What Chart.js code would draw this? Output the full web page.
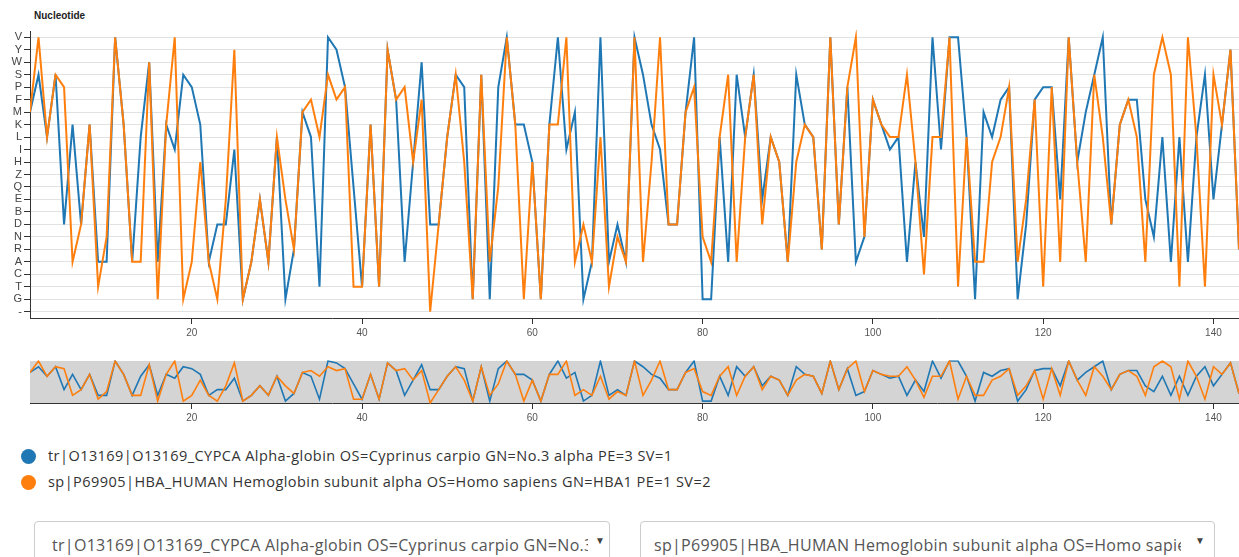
<!DOCTYPE html>
<html>
<head>
<meta charset="utf-8">
<title>Nucleotide</title>
<script src="https://cdn.jsdelivr.net/npm/chart.js"></script>
<style>
  body { margin: 0; width: 1239px; height: 557px; overflow: hidden; background: #fff; position: relative; font-family: "Liberation Sans", Arial, sans-serif; }
  #title { position: absolute; left: 34px; top: 10px; font-size: 10px; font-weight: bold; color: #222; }
  #main { position: absolute; left: 0; top: 0; }
  #brush { position: absolute; left: 0; top: 345px; }
  .legend { position: absolute; left: 21px; height: 16px; line-height: 16px; font-family: "Open Sans", sans-serif; font-size: 14.5px; letter-spacing: 0.45px; color: #333; white-space: nowrap; }
  .legend i { display: inline-block; width: 15px; height: 15px; border-radius: 50%; vertical-align: -3px; margin-right: 12px; }
  .pick { position: absolute; top: 521px; height: 44px; border: 1px solid #ccc; border-radius: 4px; background: #fff; }
  .pick select { -webkit-appearance: none; appearance: none; border: 0; background: transparent; outline: none;
    font-family: "Open Sans", sans-serif; font-size: 16px; letter-spacing: 0.3px; color: #555; position: absolute; top: 11px; height: 24px; padding: 0; }
  .pick span { position: absolute; top: 13px; font-size: 10px; color: #444; }
</style>
</head>
<body>
<div id="title">Nucleotide</div>
<canvas id="main" width="1239" height="345"></canvas>
<canvas id="brush" width="1239" height="85"></canvas>

<div class="legend" style="top:448px"><i style="background:#1f77b4"></i>tr|O13169|O13169_CYPCA Alpha-globin OS=Cyprinus carpio GN=No.3 alpha PE=3 SV=1</div>
<div class="legend" style="top:474px"><i style="background:#ff7f0e"></i>sp|P69905|HBA_HUMAN Hemoglobin subunit alpha OS=Homo sapiens GN=HBA1 PE=1 SV=2</div>

<div class="pick" style="left:34px; width:574px">
  <select id="pickA" style="left:17px; width:536px">
    <option>tr|O13169|O13169_CYPCA Alpha-globin OS=Cyprinus carpio GN=No.3 alpha PE=3 SV=1</option>
    <option>sp|P69905|HBA_HUMAN Hemoglobin subunit alpha OS=Homo sapiens GN=HBA1 PE=1 SV=2</option>
  </select>
  <span style="left:560px">&#9660;</span>
</div>
<div class="pick" style="left:640px; width:573px">
  <select id="pickB" style="left:13px; width:527px">
    <option>tr|O13169|O13169_CYPCA Alpha-globin OS=Cyprinus carpio GN=No.3 alpha PE=3 SV=1</option>
    <option selected>sp|P69905|HBA_HUMAN Hemoglobin subunit alpha OS=Homo sapiens GN=HBA1 PE=1 SV=2</option>
  </select>
  <span style="left:554px">&#9660;</span>
</div>

<script>
// y categories, top to bottom
const residues = ['V', 'Y', 'W', 'S', 'P', 'F', 'M', 'K', 'L', 'I', 'H', 'Z', 'Q', 'E', 'B', 'D', 'N', 'R', 'A', 'C', 'T', 'G', '-'];

// x axis tick labels
const xTicks = [20, 40, 60, 80, 100, 120, 140];

// tr|O13169 carp alpha-globin, one residue per position
const carpSeq = [
  'M', 'S', 'L', 'S', 'D', 'K', 'D', 'K', 'A', 'A',
  'V', 'K', 'A', 'L', 'W', 'A', 'K', 'I', 'S', 'P',
  'K', 'A', 'D', 'D', 'I', 'G', 'A', 'E', 'A', 'L',
  'G', 'R', 'M', 'L', 'T', 'V', 'Y', 'P', 'Q', 'T',
  'K', 'T', 'Y', 'F', 'A', 'H', 'W', 'D', 'D', 'L',
  'S', 'P', 'G', 'S', 'G', 'P', 'V', 'K', 'K', 'H',
  'G', 'K', 'V', 'I', 'M', 'G', 'A', 'V', 'A', 'D',
  'A', 'V', 'S', 'K', 'I', 'D', 'D', 'M', 'V', 'G',
  'G', 'L', 'A', 'S', 'L', 'S', 'E', 'L', 'H', 'A',
  'S', 'K', 'L', 'R', 'V', 'D', 'P', 'A', 'N', 'F',
  'K', 'I', 'L', 'A', 'H', 'N', 'V', 'I', 'V', 'V',
  'L', 'G', 'M', 'L', 'F', 'P', 'G', 'D', 'F', 'P',
  'P', 'E', 'V', 'H', 'M', 'S', 'V', 'D', 'K', 'F',
  'F', 'E', 'N', 'L', 'A', 'L', 'A', 'L', 'S', 'E',
  'K', 'Y', 'R'
];

// sp|P69905 human HBA, with the alignment gap
const humanSeq = [
  'M', 'V', 'L', 'S', 'P', 'A', 'D', 'K', 'T', 'N',
  'V', 'K', 'A', 'A', 'W', 'G', 'K', 'V', 'G', 'A',
  'H', 'A', 'G', 'E', 'Y', 'G', 'A', 'E', 'A', 'L',
  'E', 'R', 'M', 'F', 'L', 'S', 'F', 'P', 'T', 'T',
  'K', 'T', 'Y', 'F', 'P', 'H', 'F', '-', 'D', 'L',
  'S', 'H', 'G', 'S', 'A', 'Q', 'V', 'K', 'G', 'H',
  'G', 'K', 'K', 'V', 'A', 'D', 'A', 'L', 'T', 'N',
  'A', 'V', 'A', 'H', 'V', 'D', 'D', 'M', 'P', 'N',
  'A', 'L', 'S', 'A', 'L', 'S', 'D', 'L', 'H', 'A',
  'H', 'K', 'L', 'R', 'V', 'D', 'P', 'V', 'N', 'F',
  'K', 'L', 'L', 'S', 'H', 'C', 'L', 'L', 'V', 'T',
  'L', 'A', 'A', 'H', 'L', 'P', 'A', 'E', 'F', 'T',
  'P', 'A', 'V', 'H', 'A', 'S', 'L', 'D', 'K', 'F',
  'L', 'A', 'S', 'V', 'S', 'T', 'V', 'L', 'T', 'S',
  'K', 'Y', 'R'
];

const blue = '#1f77b4';
const orange = '#ff7f0e';

// position -> residue points
function seqPoints(seq) {
  return seq.map((r, i) => ({ x: i + 1, y: r }));
}

function xAxis() {
  return {
    type: 'linear',
    min: 1,
    max: 143,
    afterBuildTicks: s => { s.ticks = xTicks.map(v => ({ value: v })); },
    afterFit: s => { s.height = 27; },
    grid: { drawOnChartArea: false, tickLength: 6, tickColor: '#333' },
    border: { color: '#333' },
    ticks: { color: '#555', font: { family: 'Liberation Sans', size: 10 }, padding: 3, maxRotation: 0 }
  };
}

// orange is painted over blue (lower order = drawn last)
function seqSets(width) {
  return [
    { label: 'carp', data: seqPoints(carpSeq), borderColor: blue, borderWidth: width, order: 1 },
    { label: 'human', data: seqPoints(humanSeq), borderColor: orange, borderWidth: width, order: 0 }
  ];
}

// main chart
new Chart(document.getElementById('main'), {
  type: 'line',
  data: { datasets: seqSets(2) },
  options: {
    responsive: false,
    animation: false,
    layout: { padding: { top: 31, left: 0, right: 0, bottom: 0 } },
    elements: { point: { radius: 0 }, line: { tension: 0, fill: false } },
    plugins: { legend: { display: false }, tooltip: { enabled: false } },
    scales: {
      x: xAxis(),
      y: {
        type: 'category',
        labels: residues,
        offset: true,
        afterFit: s => { s.width = 30; },
        grid: { color: '#e2e2e2', tickLength: 6, tickColor: '#333' },
        border: { color: '#333' },
        ticks: { color: '#444', font: { family: 'Liberation Sans', size: 11 }, padding: 2, autoSkip: false }
      }
    }
  }
});

// gray band behind the overview
const bandBg = {
  id: 'bandBg',
  beforeDraw(chart) {
    const a = chart.chartArea;
    chart.ctx.save();
    chart.ctx.fillStyle = '#d4d4d4';
    chart.ctx.fillRect(a.left, a.top, a.right - a.left, a.bottom - a.top);
    chart.ctx.restore();
  }
};

// overview chart
new Chart(document.getElementById('brush'), {
  type: 'line',
  data: { datasets: seqSets(1.6) },
  options: {
    responsive: false,
    animation: false,
    layout: { padding: { top: 16, left: 30, right: 0, bottom: 0 } },
    elements: { point: { radius: 0 }, line: { tension: 0, fill: false } },
    plugins: { legend: { display: false }, tooltip: { enabled: false } },
    scales: {
      x: xAxis(),
      y: { type: 'category', labels: residues, offset: false, display: false }
    }
  },
  plugins: [bandBg]
});
</script>
</body>
</html>
